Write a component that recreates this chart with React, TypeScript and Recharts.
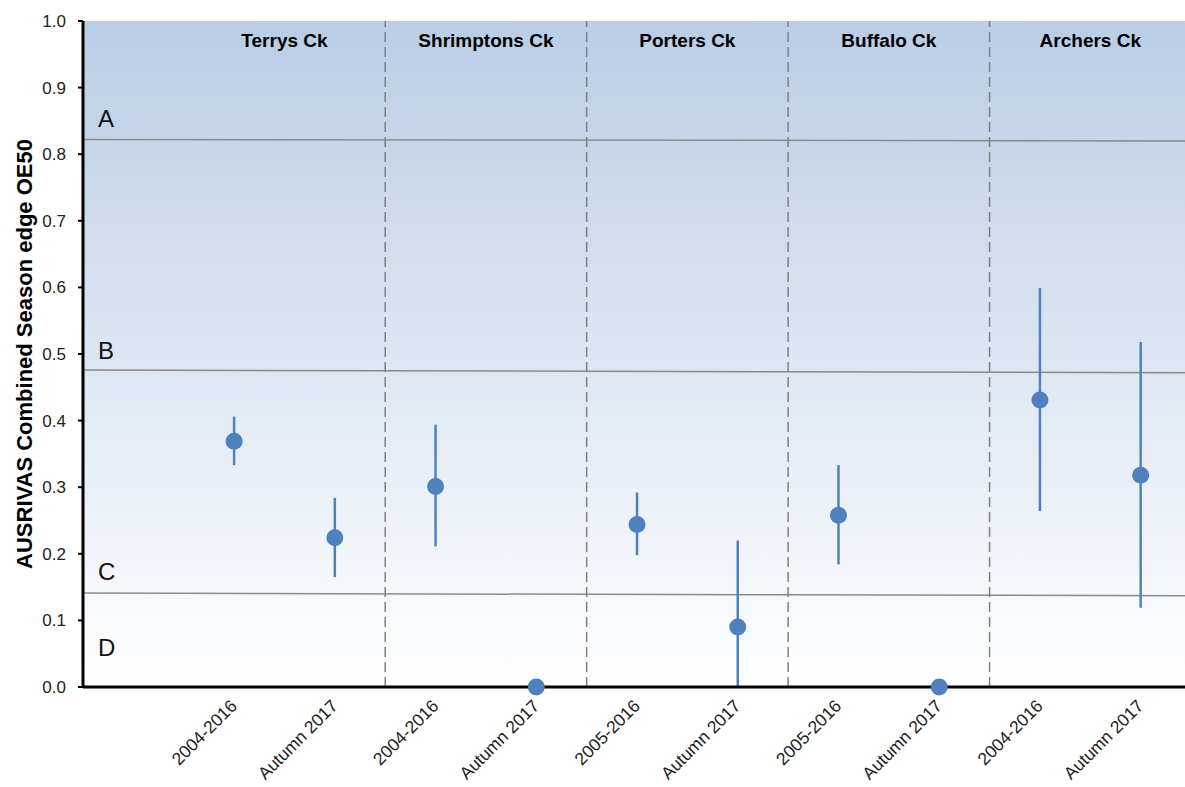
import React from "react";
import {
  ScatterChart,
  Scatter,
  XAxis,
  YAxis,
  ErrorBar,
  ReferenceLine,
  ReferenceArea,
  ReferenceDot
} from "recharts";

// categories (two periods per creek)
const periods = [
  "2004-2016", "Autumn 2017",
  "2004-2016", "Autumn 2017",
  "2005-2016", "Autumn 2017",
  "2005-2016", "Autumn 2017",
  "2004-2016", "Autumn 2017"
];
const positions = [1.5, 2.5, 3.5, 4.5, 5.5, 6.5, 7.5, 8.5, 9.5, 10.5];

// OE50 mean and range
const oeMean = [0.369, 0.224, 0.301, 0, 0.244, 0.09, 0.258, 0, 0.431, 0.318];
const oeLow = [0.333, 0.165, 0.211, 0, 0.198, 0, 0.184, 0, 0.264, 0.119];
const oeHigh = [0.406, 0.284, 0.394, 0, 0.292, 0.22, 0.333, 0, 0.599, 0.518];

// creek groups
const creeks = ["Terrys Ck", "Shrimptons Ck", "Porters Ck", "Buffalo Ck", "Archers Ck"];
const creekCenters = [2, 4, 6, 8, 10];
const creekDividers = [3, 5, 7, 9];

// band boundaries (left / right end) and band letters
const bandLeft = [0.822, 0.476, 0.141];
const bandRight = [0.82, 0.472, 0.137];
const bandLetters = ["A", "B", "C", "D"];
const bandLetterY = [0.853, 0.506, 0.173, 0.06];

const yTicks = [0, 0.1, 0.2, 0.3, 0.4, 0.5, 0.6, 0.7, 0.8, 0.9, 1.0];
const X_MAX = 10.94;

const FONT = "Arial, 'Liberation Sans', sans-serif";
const BLUE = "#4f81bd";

const data = positions.map((x, i) => ({
  x,
  y: oeMean[i],
  err: [oeMean[i] - oeLow[i], oeHigh[i] - oeMean[i]]
}));

const XTick = (props: any) => {
  const { x, y, payload } = props;
  const i = positions.indexOf(payload.value);
  const tx = x + 4;
  const ty = y + 12;
  return (
    <text
      x={tx}
      y={ty}
      transform={`rotate(-45, ${tx}, ${ty})`}
      textAnchor="end"
      fontSize={17.5}
      fontFamily={FONT}
      fill="#222"
    >
      {periods[i]}
    </text>
  );
};

const App = () => {
  return (
    <div style={{ position: "absolute", left: 0, top: 0 }}>
      <ScatterChart
        width={1185}
        height={787}
        margin={{ top: 21, right: 0, bottom: 0, left: 0 }}
      >
        <defs>
          <linearGradient id="bg" x1="0" y1="0" x2="0" y2="1">
            <stop offset="0%" stopColor="#b9cde5" />
            <stop offset="100%" stopColor="#ffffff" />
          </linearGradient>
        </defs>

        {/* Background */}
        <ReferenceArea
          x1={0}
          x2={X_MAX}
          y1={0}
          y2={1}
          fill="url(#bg)"
          fillOpacity={1}
          stroke="none"
        />

        {/* Band boundaries */}
        {bandLeft.map((v, i) => (
          <ReferenceLine
            key={"b" + i}
            segment={[{ x: 0, y: v }, { x: X_MAX, y: bandRight[i] }]}
            stroke="#8a8a8a"
            strokeWidth={1.5}
          />
        ))}

        {/* Creek dividers */}
        {creekDividers.map((v) => (
          <ReferenceLine
            key={"d" + v}
            x={v}
            stroke="#808080"
            strokeWidth={1.5}
            strokeDasharray="10 5"
          />
        ))}

        <XAxis
          type="number"
          dataKey="x"
          domain={[0, X_MAX]}
          ticks={positions}
          interval={0}
          height={100}
          tick={<XTick />}
          tickLine={false}
          axisLine={{ stroke: "#000", strokeWidth: 3 }}
          allowDataOverflow
        />

        <YAxis
          type="number"
          dataKey="y"
          domain={[0, 1]}
          ticks={yTicks}
          width={83}
          tickFormatter={(v: number) => v.toFixed(1)}
          tick={{ fill: "#222", fontSize: 17, fontFamily: FONT }}
          tickSize={5}
          tickMargin={12}
          tickLine={{ stroke: "#000", strokeWidth: 2 }}
          axisLine={{ stroke: "#000", strokeWidth: 3 }}
          label={{
            value: "AUSRIVAS Combined Season edge OE50",
            content: (p: any) => {
              const cy = p.viewBox.y + p.viewBox.height / 2;
              return (
                <text
                  x={24}
                  y={cy}
                  transform={`rotate(-90, 24, ${cy})`}
                  textAnchor="middle"
                  dominantBaseline="central"
                  fontSize={22}
                  fontWeight="bold"
                  fontFamily={FONT}
                  fill="#000"
                >
                  AUSRIVAS Combined Season edge OE50
                </text>
              );
            }
          }}
        />

        {/* Band letters */}
        {bandLetters.map((t, i) => (
          <ReferenceDot
            key={"l" + t}
            x={0.15}
            y={bandLetterY[i]}
            r={0}
            shape={(p: any) => (
              <text
                x={p.cx}
                y={p.cy}
                dominantBaseline="central"
                fontSize={24}
                fontFamily={FONT}
                fill="#111"
              >
                {t}
              </text>
            )}
          />
        ))}

        {/* Creek names */}
        {creeks.map((c, i) => (
          <ReferenceDot
            key={"c" + c}
            x={creekCenters[i]}
            y={0.971}
            r={0}
            shape={(p: any) => (
              <text
                x={p.cx}
                y={p.cy}
                textAnchor="middle"
                dominantBaseline="central"
                fontSize={19}
                fontWeight="bold"
                fontFamily={FONT}
                fill="#000"
              >
                {c}
              </text>
            )}
          />
        ))}

        {/* Points */}
        <Scatter
          data={data}
          isAnimationActive={false}
          fill={BLUE}
          shape={(p: any) => <circle cx={p.cx} cy={p.cy} r={8.5} fill={BLUE} />}
        >
          <ErrorBar
            dataKey="err"
            direction="y"
            width={0}
            stroke={BLUE}
            strokeWidth={2.5}
          />
        </Scatter>
      </ScatterChart>
    </div>
  );
};

export default App;
